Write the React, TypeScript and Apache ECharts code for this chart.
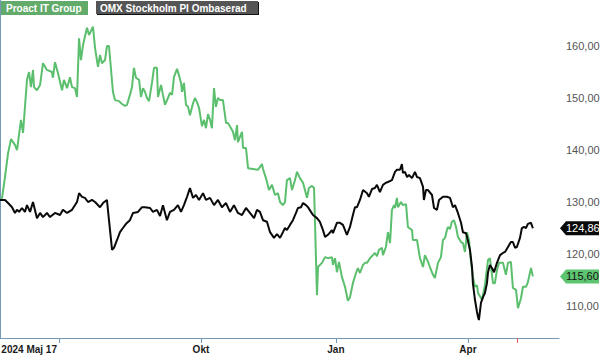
import React, { useEffect, useRef } from "react";
import * as echarts from "echarts";

// x = days since 2024-05-17
const proactDays = [0, 1.4, 3.4, 5.5, 7.5, 10.2, 11.6, 14.3, 15.7, 18.4, 19.8, 21.1, 22.5, 23.2, 25.2, 27.3, 29.3, 32.0, 35.4, 36.1, 37.5, 39.5, 42.3, 43.6, 45.7, 47.7, 49.1, 51.1, 52.5, 53.9, 55.2, 56.6, 59.3, 60.7, 63.4, 64.8, 66.8, 68.2, 69.5, 71.6, 72.9, 74.3, 77.0, 78.4, 81.1, 83.2, 85.2, 86.6, 88.6, 90.0, 91.3, 92.7, 94.8, 96.1, 97.5, 98.8, 100.2, 101.6, 103.6, 105.0, 107.0, 107.7, 109.8, 111.1, 112.5, 114.5, 115.9, 117.3, 118.6, 120.7, 122.0, 123.4, 124.1, 125.4, 126.8, 128.2, 129.5, 131.6, 132.9, 134.3, 135.7, 137.7, 139.1, 140.4, 141.8, 143.2, 144.5, 145.9, 147.2, 148.6, 150.0, 152.0, 154.1, 155.4, 157.5, 158.8, 160.2, 161.6, 162.2, 165.0, 165.7, 167.7, 169.1, 172.5, 175.9, 178.6, 179.3, 181.3, 183.4, 185.4, 187.5, 189.5, 190.9, 192.9, 194.3, 195.6, 197.7, 199.1, 201.1, 202.5, 204.5, 206.6, 209.3, 210.6, 212.7, 214.1, 216.1, 216.8, 219.5, 221.6, 223.6, 226.3, 227.0, 228.4, 229.7, 231.1, 233.1, 235.2, 237.2, 238.6, 240.6, 242.7, 244.0, 245.4, 247.5, 248.8, 250.2, 252.2, 254.3, 255.6, 257.0, 258.4, 260.4, 261.1, 263.1, 264.5, 265.9, 267.2, 268.6, 269.3, 270.6, 271.3, 273.4, 274.7, 276.8, 278.1, 280.9, 281.5, 284.3, 286.3, 288.4, 289.7, 291.8, 293.1, 295.2, 296.5, 298.6, 300.6, 302.0, 303.4, 304.7, 305.4, 306.8, 308.1, 309.5, 310.9, 312.2, 314.3, 315.6, 317.0, 318.4, 319.7, 321.1, 322.4, 323.8, 325.2, 325.9, 328.6, 330.6, 332.7, 334.0, 336.1, 337.4, 338.8, 340.2, 342.9, 344.9, 346.3, 348.3, 349.7, 351.8, 353.1, 355.2, 356.5, 358.6, 359.9, 362.0, 363.3];
const proactValues = [130.3, 130.7, 134.7, 139.3, 142.0, 140.9, 139.9, 145.7, 143.2, 153.4, 154.9, 152.0, 155.3, 152.0, 151.4, 152.4, 156.6, 155.3, 154.9, 153.8, 156.8, 154.7, 151.4, 153.4, 151.8, 153.9, 152.0, 151.8, 150.1, 161.4, 157.2, 160.1, 163.4, 162.0, 163.6, 159.5, 155.9, 158.2, 156.6, 157.2, 159.9, 159.9, 151.1, 149.5, 149.3, 148.75, 148.4, 148.6, 150.5, 152.0, 155.7, 153.8, 153.4, 150.1, 151.8, 151.1, 149.9, 149.3, 152.8, 155.7, 155.7, 150.1, 152.4, 150.5, 148.6, 149.9, 150.9, 150.5, 153.9, 155.5, 154.3, 152.8, 151.1, 152.8, 148.6, 148.2, 146.6, 148.9, 149.9, 149.1, 148.0, 144.5, 145.7, 144.1, 146.8, 145.7, 144.1, 151.8, 148.2, 149.9, 149.5, 149.5, 145.1, 145.1, 144.1, 143.4, 141.8, 144.7, 141.4, 143.4, 140.3, 140.3, 136.4, 136.25, 136.1, 137.2, 136.25, 134.5, 132.2, 133.2, 131.25, 131.6, 129.9, 129.3, 129.9, 134.1, 134.5, 132.2, 134.1, 135.7, 134.5, 133.6, 130.7, 132.6, 133.0, 132.6, 112.0, 117.4, 118.2, 119.3, 119.1, 119.3, 117.8, 119.1, 116.4, 118.4, 115.5, 113.6, 110.9, 111.6, 114.3, 116.25, 117.2, 116.25, 117.8, 118.2, 118.2, 119.1, 119.7, 120.1, 119.5, 120.7, 121.1, 119.7, 121.25, 124.1, 122.0, 128.4, 129.3, 128.75, 130.7, 128.9, 129.9, 129.3, 129.5, 125.1, 124.5, 122.6, 122.6, 119.1, 117.4, 119.7, 118.4, 117.4, 115.9, 115.3, 118.2, 119.3, 122.6, 123.0, 124.5, 125.1, 124.7, 126.1, 126.4, 125.1, 123.2, 122.2, 122.0, 120.3, 124.1, 122.6, 118.4, 115.5, 113.6, 113.9, 112.4, 111.1, 113.9, 118.75, 119.1, 114.3, 114.3, 116.8, 118.2, 118.2, 115.9, 118.2, 118.4, 113.4, 113.0, 109.5, 111.4, 113.6, 113.6, 114.5, 117.2, 115.6];

const omxDays = [0, 3.4, 5.5, 8.2, 10.2, 11.6, 13.0, 15.0, 17.0, 18.4, 20.5, 22.5, 25.2, 27.3, 29.3, 32.0, 34.1, 37.5, 40.9, 42.9, 45.7, 49.1, 52.5, 53.9, 55.9, 57.9, 60.0, 62.7, 64.8, 68.2, 70.2, 72.9, 74.3, 76.4, 77.7, 79.8, 81.8, 83.8, 85.9, 88.6, 90.7, 94.1, 96.8, 98.8, 102.3, 104.3, 107.0, 109.1, 111.1, 113.8, 115.9, 118.6, 121.3, 123.4, 125.4, 127.5, 129.5, 131.6, 133.6, 135.7, 138.4, 140.4, 143.2, 145.9, 148.6, 151.3, 154.1, 156.8, 159.5, 162.2, 165.0, 167.7, 170.4, 173.2, 175.2, 177.2, 179.3, 182.0, 184.1, 186.8, 188.8, 190.9, 192.9, 194.3, 195.6, 197.7, 199.7, 201.8, 203.1, 205.2, 206.6, 208.6, 210.0, 212.0, 213.4, 216.1, 218.1, 220.2, 221.6, 223.6, 226.3, 227.0, 229.7, 231.8, 233.8, 236.5, 238.6, 240.6, 242.0, 243.4, 245.4, 247.5, 250.2, 251.5, 253.6, 255.6, 257.0, 259.0, 261.1, 263.1, 264.5, 267.2, 269.3, 270.6, 272.7, 274.0, 274.7, 276.1, 277.5, 278.8, 280.9, 282.9, 284.3, 286.3, 288.4, 289.0, 290.4, 291.8, 294.5, 295.9, 297.9, 299.3, 302.0, 304.7, 306.8, 308.8, 310.2, 312.2, 314.3, 315.6, 317.7, 318.4, 320.4, 321.8, 322.4, 323.8, 325.2, 325.9, 326.5, 327.9, 329.3, 330.6, 332.0, 332.7, 334.0, 335.4, 336.8, 338.8, 340.9, 342.9, 344.3, 346.3, 348.3, 349.7, 351.1, 352.4, 354.5, 355.8, 357.2, 358.6, 359.9, 362.0, 363.3];
const omxValues = [130.3, 130.3, 129.7, 128.9, 127.8, 128.4, 128.0, 128.75, 128.0, 129.3, 128.0, 129.9, 126.8, 127.8, 127.0, 127.8, 127.0, 127.8, 127.4, 128.4, 127.8, 128.4, 129.9, 131.6, 130.9, 130.7, 129.9, 130.3, 129.9, 128.9, 129.7, 130.3, 126.4, 120.7, 121.1, 122.6, 124.1, 124.9, 125.7, 126.4, 127.8, 128.0, 128.9, 128.9, 128.75, 128.0, 128.4, 127.2, 129.3, 126.4, 128.0, 128.4, 129.3, 128.0, 129.3, 130.9, 132.6, 130.7, 131.25, 130.3, 131.6, 130.3, 130.7, 129.3, 130.3, 128.9, 129.7, 128.0, 129.3, 127.8, 127.4, 128.75, 127.8, 126.8, 128.4, 128.0, 126.4, 126.1, 124.1, 123.0, 123.75, 123.0, 124.1, 124.9, 124.5, 125.5, 126.4, 127.8, 128.75, 128.9, 129.7, 129.3, 128.9, 128.0, 127.4, 126.8, 126.1, 124.5, 123.2, 123.6, 124.5, 123.9, 125.9, 125.9, 125.5, 123.6, 125.1, 127.4, 128.9, 128.9, 130.3, 132.2, 131.6, 130.9, 132.4, 132.6, 133.2, 131.8, 133.2, 133.6, 133.75, 134.1, 135.7, 136.1, 136.1, 137.2, 135.5, 135.7, 134.7, 135.1, 134.5, 135.7, 134.7, 134.5, 132.8, 130.3, 132.2, 132.2, 131.25, 128.75, 128.4, 130.3, 130.9, 130.9, 130.7, 128.9, 129.3, 127.8, 125.9, 124.1, 123.9, 123.2, 120.7, 117.4, 114.3, 111.1, 108.75, 107.8, 107.2, 110.5, 111.6, 112.4, 114.3, 116.4, 117.8, 117.2, 116.4, 118.2, 119.7, 120.1, 120.3, 121.25, 122.2, 122.2, 121.1, 121.25, 123.0, 124.9, 125.1, 124.9, 125.7, 125.9, 124.86];

const seriesNames = ["Proact IT Group", "OMX Stockholm PI Ombaserad"];
const yTickValues = [110, 120, 130, 140, 150, 160];
const xTickDays = [40.2, 137, 229, 319];
const xTickLabels = ["2024 Maj 17", "Okt", "Jan", "Apr"];
const markerDay = 352.4;

const FONT = "'Liberation Sans', Arial, Helvetica, sans-serif";
const AXIS_COLOR = "#7399b6";
const GREEN = "#5cbf6e";
const BLACK = "#0a0a0a";

const fmt = (v: number) => v.toFixed(2).replace(".", ",");

export default function App() {
  const ref = useRef<HTMLDivElement>(null);
  useEffect(() => {
    if (!ref.current) return;
    const chart = echarts.init(ref.current, undefined, { renderer: "svg" });
    const labelFor = (v: number) => {
      let best = 0;
      for (let i = 0; i < xTickDays.length; i++) {
        if (Math.abs(xTickDays[i] - v) < Math.abs(xTickDays[best] - v)) best = i;
      }
      return xTickLabels[best];
    };
    const xLabelStyle = {
      color: "#1a1a1a",
      fontWeight: "bold",
      fontSize: 10,
      fontFamily: FONT,
      margin: 6,
    };
    const option: any = {
      animation: false,
      grid: { left: 0, right: 41, top: 0, bottom: 18, containLabel: false, outerBoundsMode: "none" },
      xAxis: [
        {
          type: "value",
          min: 0,
          max: 381.1,
          position: "bottom",
          axisLine: { show: true, lineStyle: { color: AXIS_COLOR, width: 1 } },
          axisTick: { show: true, customValues: xTickDays, length: 5, inside: false, lineStyle: { color: AXIS_COLOR } },
          axisLabel: {
            ...xLabelStyle,
            customValues: xTickDays.slice(1),
            formatter: (v: number) => labelFor(v),
          },
          splitLine: { show: false },
        },
        {
          type: "value",
          min: 0,
          max: 381.1,
          position: "bottom",
          axisLine: { show: false },
          axisTick: { show: true, customValues: [markerDay], length: 5, lineStyle: { color: "#e05a5a" } },
          axisLabel: {
            ...xLabelStyle,
            customValues: [xTickDays[0]],
            formatter: (v: number) => labelFor(v),
            align: "right",
            padding: [0, 2, 0, 0],
          },
          splitLine: { show: false },
        },
      ],
      yAxis: {
        type: "value",
        position: "right",
        min: 103.75,
        max: 168.75,
        axisLine: { show: true, lineStyle: { color: AXIS_COLOR, width: 1 } },
        axisTick: { show: false },
        splitLine: { show: false },
        axisLabel: {
          customValues: yTickValues,
          formatter: (v: number) => fmt(v),
          color: "#555",
          fontSize: 11,
          fontFamily: FONT,
          margin: 7,
        },
      },
      series: [
        {
          name: seriesNames[0],
          type: "line",
          showSymbol: false,
          silent: true,
          data: proactDays.map((d, i) => [d, proactValues[i]]),
          lineStyle: { color: GREEN, width: 2 },
          itemStyle: { color: GREEN },
          z: 2,
        },
        {
          name: seriesNames[1],
          type: "line",
          showSymbol: false,
          silent: true,
          data: omxDays.map((d, i) => [d, omxValues[i]]),
          lineStyle: { color: BLACK, width: 2 },
          itemStyle: { color: BLACK },
          z: 3,
        },
      ],
    };
    chart.setOption(option);

    const lastG = proactValues[proactValues.length - 1];
    const lastB = omxValues[omxValues.length - 1];
    const yG = chart.convertToPixel({ yAxisIndex: 0 }, lastG) as number;
    const yB = chart.convertToPixel({ yAxisIndex: 0 }, lastB) as number;
    const xA = chart.convertToPixel({ xAxisIndex: 0 }, 381.1) as number;

    const tag = (y: number, fill: string, textColor: string, text: string) => ({
      type: "group",
      children: [
        {
          type: "polygon",
          shape: {
            points: [
              [xA + 1, y],
              [xA + 7, y - 7],
              [599, y - 7],
              [599, y + 7],
              [xA + 7, y + 7],
            ],
          },
          style: { fill },
        },
        {
          type: "text",
          x: xA + 7,
          y: y,
          style: { text, fill: textColor, fontSize: 11, fontFamily: FONT, verticalAlign: "middle", align: "left" },
        },
      ],
    });

    chart.setOption({
      graphic: [
        { type: "rect", shape: { x: 1, y: 1, width: 87, height: 14 }, style: { fill: "#63ab6b" } },
        {
          type: "text",
          x: 6,
          y: 8.5,
          style: { text: seriesNames[0], fill: "#fff", fontSize: 10, fontWeight: "bold", fontFamily: FONT, verticalAlign: "middle" },
        },
        { type: "rect", shape: { x: 97, y: 2, width: 162, height: 13 }, style: { fill: "#111" } },
        { type: "rect", shape: { x: 96, y: 1, width: 162, height: 13 }, style: { fill: "#555" } },
        {
          type: "text",
          x: 100,
          y: 8,
          style: { text: seriesNames[1], fill: "#fff", fontSize: 10, fontWeight: "bold", fontFamily: FONT, verticalAlign: "middle" },
        },
        tag(yB, "#0a0a0a", "#fff", fmt(lastB)),
        tag(yG, "#5dc46f", "#111", fmt(lastG)),
      ],
    });

    return () => chart.dispose();
  }, []);
  return (
    <div
      ref={ref}
      style={{ position: "fixed", left: 0, top: 0, width: 600, height: 356, background: "#fff" }}
    />
  );
}
